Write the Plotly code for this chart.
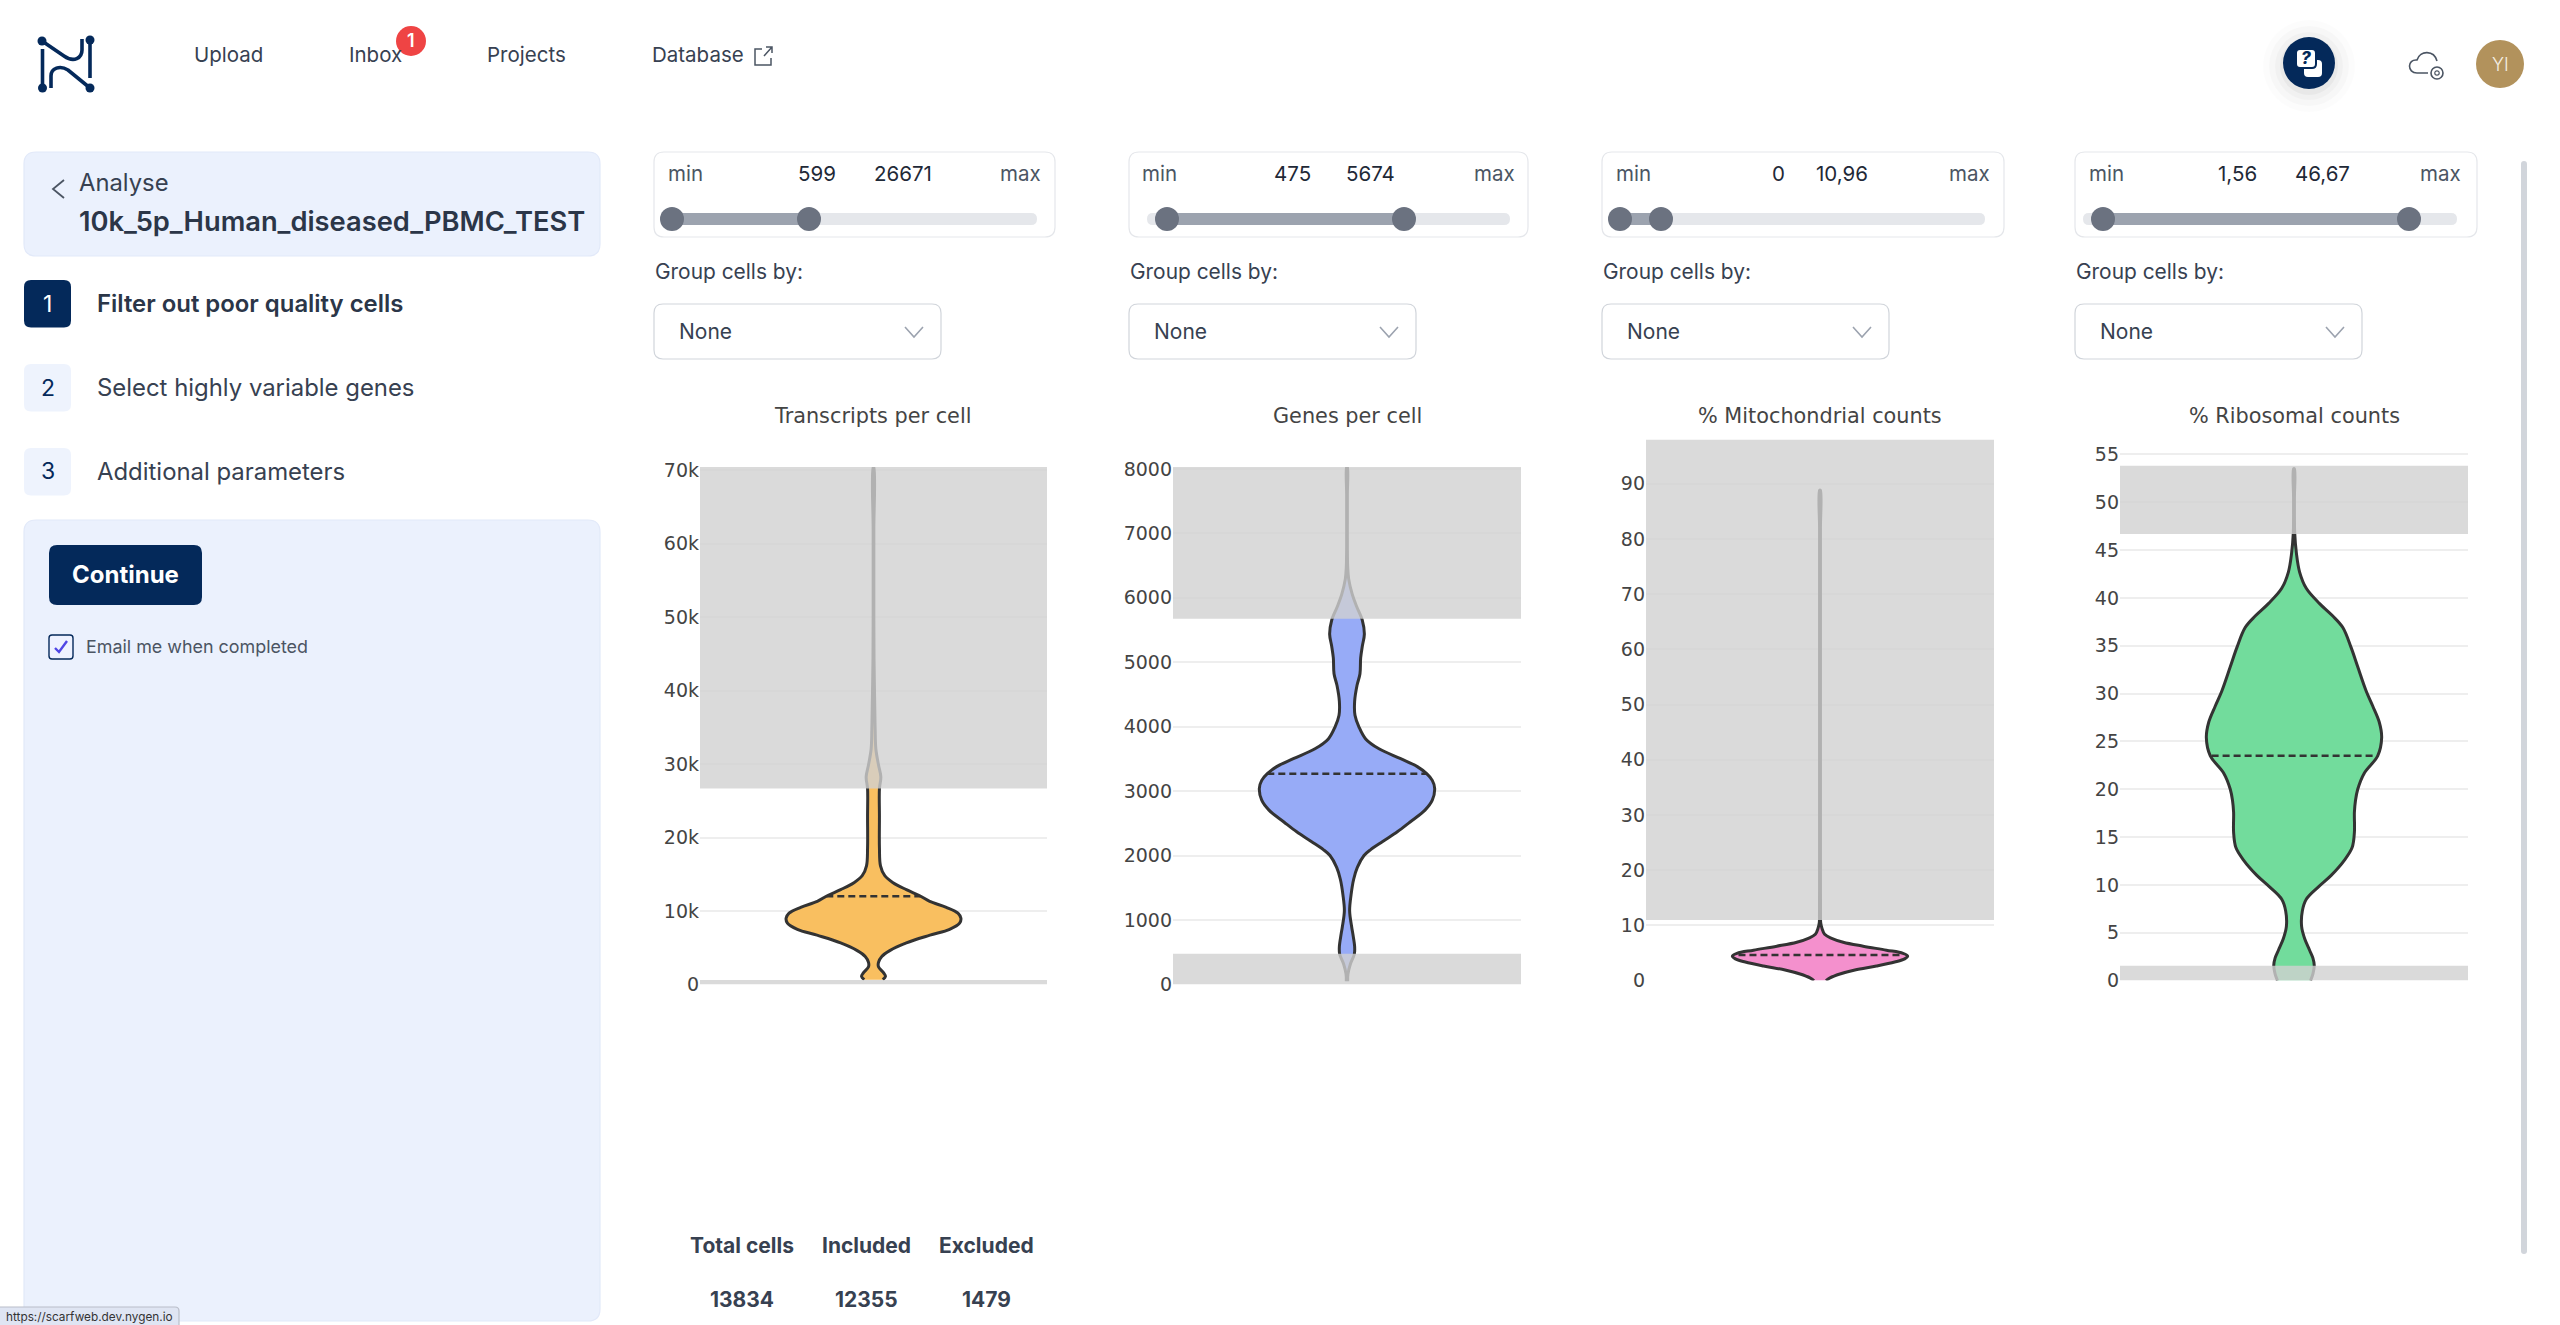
import plotly.graph_objects as go

W = 2560
H = 1325

# value, density = half width as a fraction of the widest point
transcripts_y = [650, 1100, 1600, 2400, 3000, 3800, 4600, 5650, 6700, 7500, 8350, 9000, 9700, 10500, 11300, 12000,
                 12900, 13850, 14800, 16150, 18600, 22900, 26650, 28250, 29900, 32050, 34750, 37400, 44400, 50000,
                 55200, 62000, 70400]
transcripts_density = [.106, .137, .114, .057, .057, .095, .186, .376, .646, .871, .985, 1, .966, .833, .643, .54,
                       .376, .224, .129, .08, .068, .068, .068, .084, .057, .027, .019, .015, .006, .004, .004, .004,
                       .004]
genes_y = [49, 160, 313, 472, 589, 773, 896, 1141, 1386, 1632, 1816, 2000, 2092, 2215, 2368, 2521, 2705, 2859, 3043,
           3166, 3270, 3380, 3503, 3656, 3810, 3994, 4178, 4393, 4638, 4822, 5067, 5252, 5436, 5650, 5865, 6049, 6294,
           6479, 6800, 7215, 7600, 8030]
genes_density = [.008, .011, .038, .084, .087, .068, .053, .03, .046, .076, .118, .194, .27, .403, .574, .72, .89,
                 .973, 1, .973, .909, .802, .612, .365, .213, .137, .091, .087, .114, .148, .156, .175, .198, .175,
                 .11, .061, .019, .008, .004, .004, .004, .004]
mito_y = [0, .5, 1.2, 1.93, 2.65, 3.37, 3.94, 4.44, 4.94, 5.51, 6.23, 6.95, 7.66, 8.38, 9.45, 10.5, 12, 17, 25, 35, 45,
          55, 65, 75, 82, 88.8]
mito_density = [.068, .114, .227, .398, .644, .852, .966, 1, .947, .758, .492, .265, .133, .053, .023, .008, .006, .005,
                .005, .005, .005, .005, .005, .005, .005, .005]
ribo_y = [0, .7, 1.6, 2.35, 3.17, 4.4, 5.64, 7.28, 8.5, 9.75, 11, 12.6, 13.9, 15.5, 17.6, 18.8, 20, 21.7, 23.5, 25.4,
          27, 28.7, 30.3, 32.8, 34.8, 36.9, 38.1, 39.4, 41, 42.7, 44.7, 46.8, 48.5, 50.5, 53.5]
ribo_density = [.189, .216, .231, .216, .178, .121, .087, .095, .14, .273, .424, .576, .663, .689, .689, .701, .727,
                .803, .955, 1, .973, .898, .822, .727, .652, .557, .443, .292, .14, .064, .027, .008, .005, .005, .005]

titles = ["Transcripts per cell", "Genes per cell", "% Mitochondrial counts", "% Ribosomal counts"]
colors = ["#f9bf60", "#97abf7", "#f490cd", "#72dc9c"]
medians = [12000, 3270, 4.65, 23.5]
median_density = [.54, .909, .93, .94]
lower_cut = [599, 475, 0, 1.56]
upper_cut = [26671, 5674, 10.96, 46.67]
axis_top = [70450, 8030, 98, 55.3]
band_top = [70450, 8030, 98, 53.8]
tick_vals = [
    [0, 10000, 20000, 30000, 40000, 50000, 60000, 70000],
    [0, 1000, 2000, 3000, 4000, 5000, 6000, 7000, 8000],
    [0, 10, 20, 30, 40, 50, 60, 70, 80, 90],
    [0, 5, 10, 15, 20, 25, 30, 35, 40, 45, 50, 55],
]
tick_text = [
    ["0", "10k", "20k", "30k", "40k", "50k", "60k", "70k"],
    ["0", "1000", "2000", "3000", "4000", "5000", "6000", "7000", "8000"],
    ["0", "10", "20", "30", "40", "50", "60", "70", "80", "90"],
    ["0", "5", "10", "15", "20", "25", "30", "35", "40", "45", "50", "55"],
]
low_labels = ["599", "475", "0", "1,56"]
high_labels = ["26671", "5674", "10,96", "46,67"]
stat_names = ["Total cells", "Included", "Excluded"]
stat_values = ["13834", "12355", "1479"]
nav_items = ["Upload", "Inbox", "Projects", "Database"]
steps = ["Filter out poor quality cells", "Select highly variable genes", "Additional parameters"]

profiles = [(transcripts_y, transcripts_density), (genes_y, genes_density), (mito_y, mito_density), (ribo_y, ribo_density)]

# pixel boxes of the four plots (left, right, top, bottom)
plot_boxes = [(700, 1047, 467, 984.4), (1173, 1521, 467, 984.4), (1646, 1994, 439.5, 980.6), (2120, 2468, 451.5, 980.6)]
title_x = [872, 1347, 1820, 2294]

NAVY = "#04295a"
PANEL = "#ebf1fd"
PANEL_LINE = "#e2e9f9"
TEXT = "#374151"
DARK = "#1f2937"
UI_FONT = "Inter"
PLOT_FONT = "DejaVu Sans"


def X(px):
    return px / W


def Y(py):
    return 1 - py / H


def path(*parts):
    out = []
    for p in parts:
        if isinstance(p, str):
            out.append(p)
        else:
            out.append("%.6f,%.6f" % (X(p[0]), Y(p[1])))
    return " ".join(out)


shapes = []
annotations = []


def add_path(d, fill=None, line=None, lw=1):
    shapes.append(dict(type="path", xref="paper", yref="paper", path=d, layer="above",
                       fillcolor=fill if fill else "rgba(0,0,0,0)",
                       line=dict(color=line if line else "rgba(0,0,0,0)", width=lw if line else 0)))


def rrect(x0, y0, x1, y1, r, fill=None, line=None, lw=1):
    d = path("M", (x0 + r, y0), "L", (x1 - r, y0), "Q", (x1, y0), (x1, y0 + r), "L", (x1, y1 - r),
             "Q", (x1, y1), (x1 - r, y1), "L", (x0 + r, y1), "Q", (x0, y1), (x0, y1 - r), "L", (x0, y0 + r),
             "Q", (x0, y0), (x0 + r, y0), "Z")
    add_path(d, fill, line, lw)


def circle(cx, cy, r, fill=None, line=None, lw=1):
    shapes.append(dict(type="circle", xref="paper", yref="paper", layer="above",
                       x0=X(cx - r), x1=X(cx + r), y0=Y(cy + r), y1=Y(cy - r),
                       fillcolor=fill if fill else "rgba(0,0,0,0)",
                       line=dict(color=line if line else "rgba(0,0,0,0)", width=lw if line else 0)))


def text(x, y, s, size, color=TEXT, anchor="left", weight=400, family=UI_FONT):
    annotations.append(dict(x=X(x), y=Y(y), xref="paper", yref="paper", text=s, showarrow=False,
                            xanchor=anchor, yanchor="middle", borderpad=0,
                            font=dict(family=family, size=size, color=color, weight=weight)))


fig = go.Figure()

# the four violins
for i, (vals, dens) in enumerate(profiles):
    n = "" if i == 0 else str(i + 1)
    left, right, top, bottom = plot_boxes[i]
    fig.update_layout({
        "xaxis" + n: dict(domain=[X(left), X(right)], range=[-1.985, 1.985], visible=False, fixedrange=True,
                          anchor="y" + n, automargin=False),
        "yaxis" + n: dict(domain=[Y(bottom), Y(top)], range=[0, axis_top[i]], anchor="x" + n, tickvals=tick_vals[i],
                          ticktext=tick_text[i], showgrid=True, gridcolor="#eeeeee", gridwidth=1.5, zeroline=False,
                          showline=False, ticks="", automargin=False,
                          tickfont=dict(family=PLOT_FONT, size=19, color="#444444")),
    })
    xs = [-d for d in dens] + [d for d in reversed(dens)]
    ys = list(vals) + list(reversed(vals))
    fig.add_trace(go.Scatter(x=xs, y=ys, mode="lines", fill="toself", fillcolor=colors[i],
                             line=dict(color="#333333", width=3, shape="spline", smoothing=1.0),
                             xaxis="x" + n, yaxis="y" + n, showlegend=False, hoverinfo="skip"))
    fig.add_trace(go.Scatter(x=[-median_density[i], median_density[i]], y=[medians[i], medians[i]], mode="lines",
                             line=dict(color="#333333", width=2.6, dash="7px,4px"),
                             xaxis="x" + n, yaxis="y" + n, showlegend=False, hoverinfo="skip"))
    # excluded ranges
    for y0, y1 in [(0, lower_cut[i]), (upper_cut[i], band_top[i])]:
        if y1 > y0:
            shapes.append(dict(type="rect", xref="x" + n + " domain", yref="y" + n, x0=0, x1=1, y0=y0, y1=y1,
                               layer="above", fillcolor="#d1d1d1", opacity=0.8, line=dict(width=0)))
    text(title_x[i], 416.5, titles[i], 20.8, "#444444", "center", family=PLOT_FONT)

# sliders and dropdowns above the plots
box_left = [654, 1129, 1602, 2075]
box_right = [1055, 1528, 2004, 2477]
min_x = [667, 1141, 1615, 2088]
low_x = [817, 1292, 1778, 2237]
high_x = [903, 1370, 1842, 2322]
max_x = [1042, 1516, 1991, 2462]
track_left = [661, 1147, 1612, 2083]
track_right = [1037, 1510, 1985, 2457]
knob_low = [672, 1167, 1620, 2103]
knob_high = [809, 1404, 1661, 2409]
for i in range(4):
    rrect(box_left[i], 152, box_right[i], 237, 10, "#ffffff", "#e5e7eb", 1.2)
    text(min_x[i], 173, "min", 20.5, "#4b5563")
    text(low_x[i], 173, low_labels[i], 20.5, DARK, "center")
    text(high_x[i], 173, high_labels[i], 20.5, DARK, "center")
    text(max_x[i], 173, "max", 20.5, "#4b5563", "right")
    rrect(track_left[i], 213, track_right[i], 225, 6, "#e5e7eb")
    rrect(knob_low[i], 213, knob_high[i], 225, 0, "#9ca3af")
    circle(knob_low[i], 219, 12, "#6b7280")
    circle(knob_high[i], 219, 12, "#6b7280")
    text(box_left[i], 271.5, "Group cells by:", 20.9, TEXT)
    rrect(box_left[i], 304, box_left[i] + 287, 359, 9, "#ffffff", "#d1d5db", 1.2)
    text(box_left[i] + 24, 331.5, "None", 21, TEXT)
    cx = box_left[i] + 260
    add_path(path("M", (cx - 9, 327), "L", (cx, 337), "L", (cx + 9, 327)), None, "#9ca3af", 1.6)

# totals under the plots
stat_x = [742, 866, 986]
for i in range(3):
    text(stat_x[i], 1245, stat_names[i], 21, TEXT, "center", 700)
    text(stat_x[i], 1299, stat_values[i], 21, TEXT, "center", 700)

# left panel
rrect(24, 152, 600, 256, 12, PANEL, PANEL_LINE, 1.2)
add_path(path("M", (64, 180), "L", (53, 189), "L", (64, 198)), None, "#4b5563", 1.8)
text(78, 182.5, "Analyse", 23.8, TEXT)
text(78, 221, "10k_5p_Human_diseased_PBMC_TEST", 27.3, "#2b3648", weight=600)
step_top = [280, 364, 448]
for i in range(3):
    y0 = step_top[i]
    rrect(24, y0, 71, y0 + 47.5, 7, NAVY if i == 0 else "#eef3fd")
    text(47.5, y0 + 23.5, str(i + 1), 23, "#ffffff" if i == 0 else NAVY, "center")
    text(96, y0 + 23.5, steps[i], 23.9, "#2b3648" if i == 0 else TEXT, weight=600 if i == 0 else 400)
rrect(24, 520, 600, 1321, 12, PANEL, PANEL_LINE, 1.2)
rrect(49, 545, 202, 605, 8, NAVY)
text(125.5, 574.5, "Continue", 24, "#ffffff", "center", 700)
rrect(49, 635, 73, 659, 3, "#eef2ff", NAVY, 1.4)
add_path(path("M", (55, 648), "L", (59, 652), "L", (67, 641)), None, "#4f46e5", 2.4)
text(85, 646.5, "Email me when completed", 17.9, "#4b5563")

# top bar
nav_x = [228, 375, 526, 697.5]
for i in range(4):
    text(nav_x[i], 55, nav_items[i], 20.5, TEXT, "center")
circle(411, 41, 15, "#ef4444")
text(411, 41, "1", 18, "#ffffff", "center", 600)
add_path(path("M", (762, 49), "L", (755, 49), "L", (755, 65), "L", (771, 65), "L", (771, 58)), None, "#4b5563", 1.5)
add_path(path("M", (764, 56), "L", (772, 47), "M", (766, 47), "L", (772, 47), "L", (772, 53)), None, "#4b5563", 1.5)

# logo
add_path(path("M", (42, 41), "L", (64, 56), "C", (74, 63), (82, 58), (82, 50), "L", (82, 39)), None, NAVY, 3.6)
add_path(path("M", (90, 88), "L", (68, 70), "C", (60, 65), (51, 68), (51, 76), "L", (51, 88)), None, NAVY, 3.6)
add_path(path("M", (42.5, 49), "L", (42.5, 88)), None, NAVY, 3.6)
add_path(path("M", (90, 40), "L", (90, 78)), None, NAVY, 3.6)
for cx, cy in [(42, 41), (90, 40), (42.5, 88), (90, 88)]:
    circle(cx, cy, 4.5, NAVY)

# help button with a soft shadow
for r, a in [(46, .012), (40, .018), (34, .025), (29, .035)]:
    circle(2309, 66, r, "rgba(0,0,0,%s)" % a)
circle(2309, 63, 26, NAVY)
rrect(2304, 60, 2322, 77, 4, "#ffffff")
rrect(2296, 49, 2316, 68, 4, "#ffffff", NAVY, 2)
text(2306, 58.5, "<i>?</i>", 17, NAVY, "center", 800)

# cloud with gear
add_path(path("M", (2428, 73), "L", (2417, 73), "C", (2407, 73), (2407, 59), (2417, 60),
              "C", (2420, 50), (2434, 50), (2437, 61)), None, "#4b5563", 1.6)
circle(2437, 73, 6, "#ffffff", "#4b5563", 1.6)
circle(2437, 73, 2.2, None, "#4b5563", 1.2)

# avatar
circle(2500, 64, 24, "#b2925c")
text(2500, 64, "YI", 18, "#f5efe4", "center", 300)

# scrollbar and the browser status bubble
rrect(2521, 161, 2527, 1254, 3, "#d1d5db")
rrect(-4, 1307, 179, 1329, 4, "#dfe5f3", "#b9bec9", 1.2)
text(5, 1317, "https://scarfweb.dev.nygen.io", 11.8, "#333333")

fig.update_layout(width=W, height=H, margin=dict(l=0, r=0, t=0, b=0), paper_bgcolor="#ffffff",
                  plot_bgcolor="#ffffff", showlegend=False, shapes=shapes, annotations=annotations)

fig.write_html("out.html", config={"displayModeBar": False},
               post_script="document.body.style.margin='0';document.body.style.overflow='hidden';")
